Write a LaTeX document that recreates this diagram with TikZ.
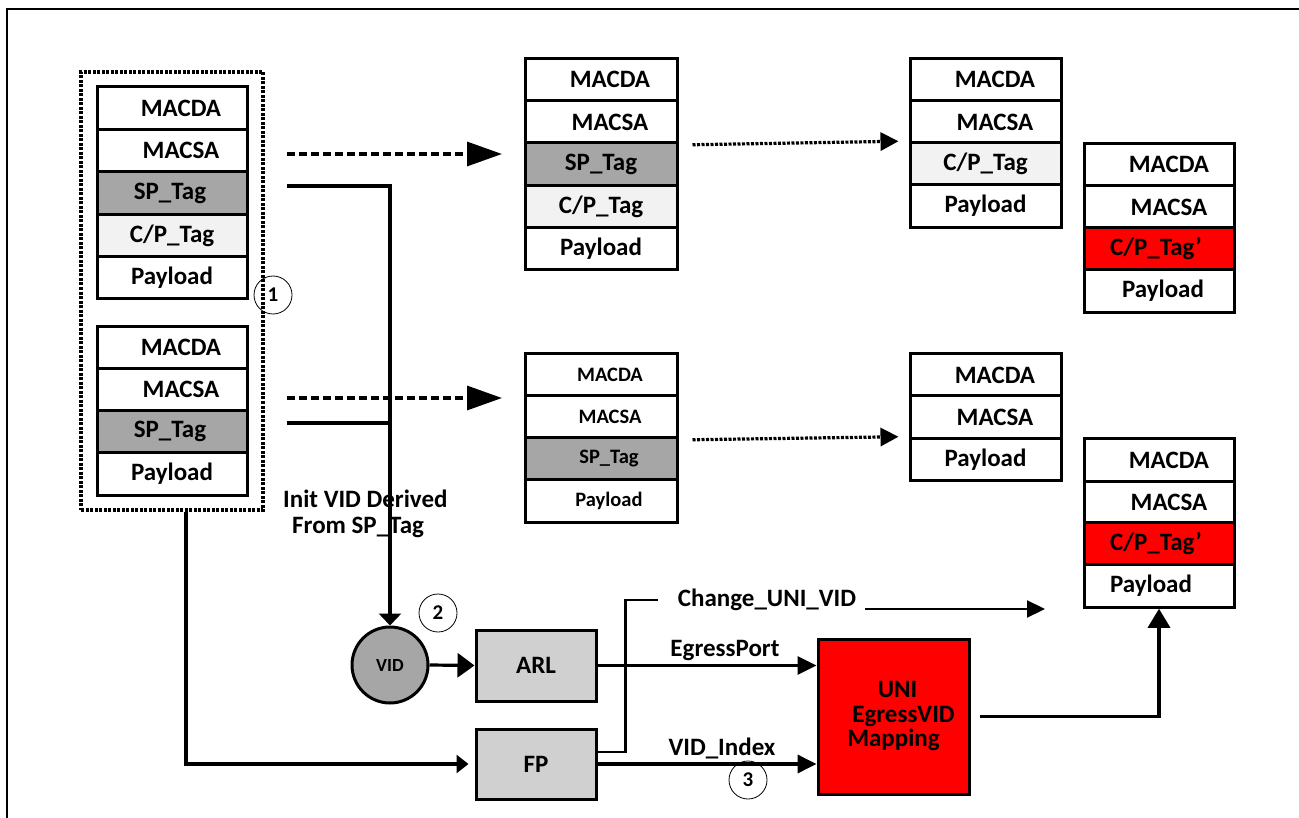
\documentclass[tikz,border=0pt]{standalone}
\usepackage{fontspec}
\setmainfont{Carlito}
\usetikzlibrary{arrows.meta}
\definecolor{tagg}{HTML}{A6A6A6}
\definecolor{cpl}{HTML}{F2F2F2}
\definecolor{blk}{HTML}{D0D0D0}
\definecolor{rd}{HTML}{FF0000}
\newcommand\tsh[2]{\hspace*{#1pt}#2}
\begin{document}
\begin{tikzpicture}[x=1pt,y=-1pt,
  big/.style={font=\bfseries\fontsize{25}{26}\selectfont},
  small/.style={font=\bfseries\fontsize{20.5}{21}\selectfont},
  cell/.style={draw, line width=3pt, minimum width=150pt, minimum height=42.5pt, inner sep=0pt, fill=white, big},
  scell/.style={cell, small},
  proc/.style={draw, line width=3pt, fill=blk, inner sep=0pt, big},
  num/.style={draw, circle, line width=0.8pt, minimum size=38pt, inner sep=0pt, font=\bfseries\fontsize{21}{22}\selectfont},
  lbl/.style={inner sep=0pt, big},
  conn/.style={line width=3.2pt},
  thin/.style={line width=2.2pt},
  bigdash/.style={line width=3.2pt, dash pattern=on 8pt off 4pt, -{Triangle[length=35pt,width=24pt]}},
  dotarr/.style={line width=3.2pt, dash pattern=on 3pt off 1.5pt, -{Triangle[length=18pt,width=18pt]}}
]
\useasboundingbox (0,0) rectangle (1299,818);
% frame
\draw[line width=2.8pt] (7,818) -- (7,9) -- (1299,9);

% group box
\node[draw, line width=3.2pt, dash pattern=on 3pt off 1.5pt, minimum width=182pt, minimum height=438pt, inner sep=0pt] (grp) at (172,291) {};

% stack A
\node[cell] (a1) at (172,108) {\tsh{18}{MACDA}};
\node[cell] (a2) at (172,150.5) {\tsh{18}{MACSA}};
\node[cell,fill=tagg] (a3) at (172,193) {\tsh{-4}{SP\_Tag}};
\node[cell,fill=cpl] (a4) at (172,235.5) {C/P\_Tag};
\node[cell] (a5) at (172,277.5) {Payload};
% stack B
\node[cell] (b1) at (172,347.5) {\tsh{18}{MACDA}};
\node[cell] (b2) at (172,389.5) {\tsh{18}{MACSA}};
\node[cell,fill=tagg] (b3) at (172,431.5) {\tsh{-4}{SP\_Tag}};
\node[cell] (b4) at (172,474) {Payload};

% stack C
\node[cell,minimum width=152pt] (c1) at (601,79.5) {\tsh{18}{MACDA}};
\node[cell,minimum width=152pt] (c2) at (601,122) {\tsh{18}{MACSA}};
\node[cell,minimum width=152pt,fill=tagg] (c3) at (601,164) {SP\_Tag};
\node[cell,minimum width=152pt,fill=cpl] (c4) at (601,206.5) {C/P\_Tag};
\node[cell,minimum width=152pt] (c5) at (601,248.5) {Payload};
% stack D
\node[scell,minimum width=152pt] (d1) at (601,375) {\tsh{18}{MACDA}};
\node[scell,minimum width=152pt] (d2) at (601,417) {\tsh{18}{MACSA}};
\node[scell,minimum width=152pt,fill=tagg] (d3) at (601,459) {\tsh{16}{SP\_Tag}};
\node[scell,minimum width=152pt] (d4) at (601,501) {\tsh{16}{Payload}};

% stack E
\node[cell,minimum width=151pt] (e1) at (985.5,79.5) {\tsh{19}{MACDA}};
\node[cell,minimum width=151pt] (e2) at (985.5,122) {\tsh{19}{MACSA}};
\node[cell,minimum width=151pt,fill=cpl] (e3) at (985.5,164) {C/P\_Tag};
\node[cell,minimum width=151pt] (e4) at (985.5,206) {Payload};
% stack F
\node[cell] (f1) at (1159,164.5) {\tsh{20}{MACDA}};
\node[cell] (f2) at (1159,207) {\tsh{20}{MACSA}};
\node[cell,fill=rd] (f3) at (1159,249) {\tsh{-6}{C/P\_Tag'}};
\node[cell] (f4) at (1159,291) {\tsh{8}{Payload}};
% stack G
\node[cell,minimum width=151pt] (g1) at (985.5,375) {\tsh{19}{MACDA}};
\node[cell,minimum width=151pt] (g2) at (985.5,417) {\tsh{19}{MACSA}};
\node[cell,minimum width=151pt] (g3) at (985.5,459.5) {Payload};
% stack H
\node[cell] (h1) at (1159,460) {\tsh{20}{MACDA}};
\node[cell] (h2) at (1159,502.5) {\tsh{20}{MACSA}};
\node[cell,fill=rd] (h3) at (1159,544) {\tsh{-6}{C/P\_Tag'}};
\node[cell] (h4) at (1159,586) {\tsh{-16}{Payload}};

% numbered circles
\node[num] (n1) at (273,295) {1};
\node[num] (n2) at (438,613) {2};
\node[num] (n3) at (748,780) {3};

% processing blocks
\node[draw, circle, line width=3pt, fill=tagg, minimum size=76pt, inner sep=0pt, font=\bfseries\fontsize{18.5}{19}\selectfont] (vid) at (390,665) {VID};
\node[proc, minimum width=120pt, minimum height=71pt] (arl) at (536,665.5) {ARL};
\node[proc, minimum width=120pt, minimum height=70pt] (fp) at (536,764) {FP};
\node[draw, line width=3pt, fill=rd, minimum width=151pt, minimum height=155pt, inner sep=0pt, align=center, font=\bfseries\fontsize{25}{24.5}\selectfont] (uni) at (893.5,716.5) {\tsh{8}{UNI}\\\tsh{20}{EgressVID}\\Mapping};

% labels
\node[lbl, align=left, anchor=north west] (init) at (283,490) {Init VID Derived\\\hspace*{9pt}From SP\_Tag};
\node[lbl] (egl) at (725,651) {EgressPort};
\node[lbl] (vil) at (722,748) {VID\_Index};
\node[lbl] (chl) at (767,600) {Change\_UNI\_VID};

% coordinates
\coordinate (sA) at (287,154);
\coordinate (tA) at (502,154);
\coordinate (sB) at (287,398);
\coordinate (tB) at (502,398);
\coordinate (cA) at (287,186);
\coordinate (cB) at (287,423);
\coordinate (chs) at (865,609);
\coordinate (cht) at (1045,609);

% connectors
\draw[bigdash] (sA) -- (tA);
\draw[bigdash] (sB) -- (tB);
\draw[dotarr] ([xshift=14pt]c2.south east) -- ([xshift=-10pt]e3.north west);
\draw[dotarr] ([xshift=14pt]d2.south east) -- ([xshift=-10pt]g3.north west);
\draw[conn, -{Triangle[length=12pt,width=22pt]}] (cA) -| (vid.north);
\draw[conn] (cB) -- (vid.north |- cB);
\draw[conn, -{Triangle[length=17pt,width=24pt]}] (vid.east) -- (arl.west);
\draw[conn, -{Triangle[length=19pt,width=18pt]}] (arl.east) -- (arl.east -| uni.west);
\draw[line width=3.6pt, -{Triangle[length=19pt,width=18pt]}] (fp.east) -- (fp.east -| uni.west);
\draw[conn, -{Triangle[length=12pt,width=18pt]}] ([xshift=14pt]grp.south) |- ([xshift=-6pt]fp.west);
\draw[thin] ([yshift=12pt]fp.east) -- ++(28,0) |- ([xshift=-20pt]chl.west);
\draw[thin, -{Triangle[length=18pt,width=17pt]}] (chs) -- (cht);
\draw[conn, -{Triangle[length=19pt,width=22pt]}] ([xshift=9pt]uni.east) -| (h4.south);
\end{tikzpicture}
\end{document}
